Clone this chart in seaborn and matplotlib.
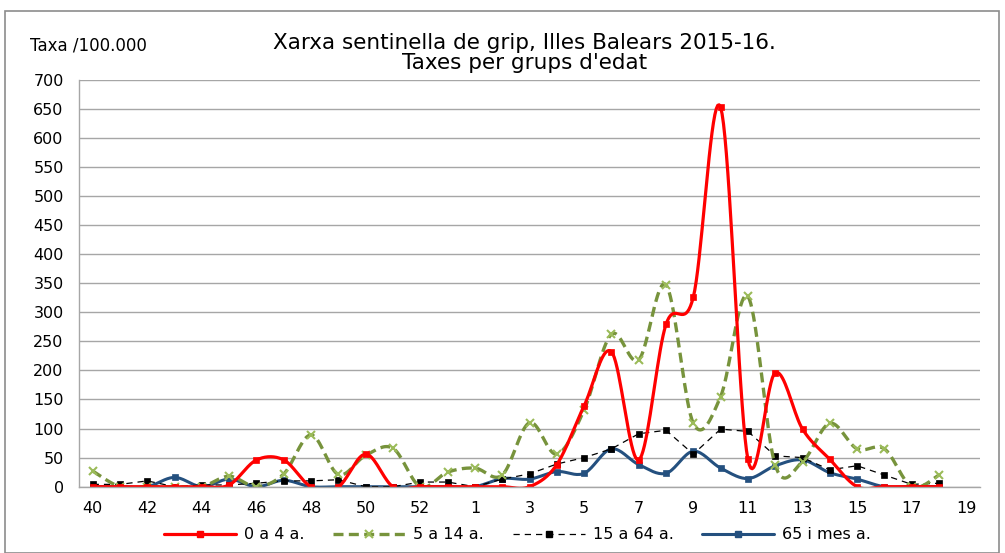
import numpy as np
import pandas as pd
import seaborn as sns
import matplotlib.pyplot as plt
from matplotlib.lines import Line2D
from matplotlib.patches import Rectangle

weeks = list(range(40, 54)) + list(range(1, 20))
rate_0_4 = [0, 0, 0, 0, 0, 3, 46, 46, 0, 0, 56, 0, 0, 0, 0, 0,
            0, 38, 139, 232, 46, 279, 326, 652, 47, 196, 99, 47, 0, 0, 0, 0]
rate_5_14 = [27, 0, 0, 0, 0, 18, 0, 22, 89, 21, 54, 66, 0, 25, 32, 20,
             110, 56, 132, 262, 218, 347, 109, 155, 327, 37, 43, 109, 65, 65, 0, 20]
rate_15_64 = [4, 4, 10, 0, 3, 3, 6, 10, 10, 12, 0, 0, 8, 8, 0, 13,
              22, 39, 50, 65, 91, 97, 56, 99, 95, 53, 50, 29, 36, 20, 4, 6]
rate_65 = [0, 0, 0, 16, 0, 13, 0, 11, 0, 0, 0, 0, 0, 0, 0, 14,
           13, 26, 23, 65, 38, 23, 61, 32, 14, 36, 46, 24, 13, 0, 0, 0]
labels = ["0 a 4 a.", "5 a 14 a.", "15 a 64 a.", "65 i mes a."]


def smooth(y, n=20):
    # excel-like smoothed line (catmull-rom bezier)
    y = np.asarray(y, dtype=float)
    x = np.arange(len(y), dtype=float)
    px = np.concatenate([[x[0]], x, [x[-1]]])
    py = np.concatenate([[y[0]], y, [y[-1]]])
    xs, ys = [], []
    t = np.linspace(0, 1, n)
    for i in range(1, len(px) - 2):
        p0 = np.array([px[i], py[i]])
        p3 = np.array([px[i + 1], py[i + 1]])
        p1 = p0 + (np.array([px[i + 1], py[i + 1]]) - np.array([px[i - 1], py[i - 1]])) / 6
        p2 = p3 - (np.array([px[i + 2], py[i + 2]]) - np.array([px[i], py[i]])) / 6
        b = ((1 - t) ** 3)[:, None] * p0 + (3 * (1 - t) ** 2 * t)[:, None] * p1 \
            + (3 * (1 - t) * t ** 2)[:, None] * p2 + (t ** 3)[:, None] * p3
        xs.extend(b[:, 0])
        ys.extend(b[:, 1])
    return np.array(xs), np.array(ys)


sns.set_style("white")
plt.rcParams["font.family"] = ["DejaVu Sans"]
plt.rcParams["text.color"] = "black"
plt.rcParams["xtick.labelcolor"] = "black"
plt.rcParams["ytick.labelcolor"] = "black"

fig = plt.figure(figsize=(10.05, 5.53), dpi=100)
ax = fig.add_axes([79 / 1005, 1 - 486.7 / 553, (980 - 79) / 1005, (486.7 - 79.5) / 553])

idx = np.arange(len(rate_0_4))
series = [
    (rate_65, "#24507F", "-", 2.2, "s", 4, "#24507F", True),
    (rate_15_64, "black", (0, (5, 4)), 0.9, "s", 5, "black", False),
    (rate_5_14, "#77933C", (0, (3, 1.6)), 2.4, "x", 6, "#9BBB59", True),
    (rate_0_4, "#FF0000", "-", 2.3, "s", 5, "#FF0000", True),
]
for vals, col, ls, lw, mk, ms, mcol, sm in series:
    if sm:
        sx, sy = smooth(vals)
    else:
        sx, sy = idx, np.asarray(vals, dtype=float)
    sns.lineplot(x=sx, y=sy, ax=ax, color=col, linestyle=ls, linewidth=lw,
                 sort=False, estimator=None)
    df = pd.DataFrame({"i": idx, "v": vals})
    ax.plot(df["i"], df["v"], linestyle="none", marker=mk, markersize=ms,
            color=mcol, markeredgecolor=mcol, markeredgewidth=1.5 if mk == "x" else 0.5)

ax.set_xlim(-0.5, len(weeks) - 0.5)
ax.set_ylim(0, 700)
ax.set_yticks(range(0, 701, 50))
ax.set_xticks(range(0, len(weeks), 2))
ax.set_xticklabels([str(w) for w in weeks[::2]])
ax.set_xticks(np.arange(-0.5, len(weeks), 1), minor=True)
ax.grid(axis="y", color="#A6A6A6", linewidth=1)
ax.set_axisbelow(True)
for s in ["top", "right"]:
    ax.spines[s].set_visible(False)
for s in ["left", "bottom"]:
    ax.spines[s].set_color("#A6A6A6")
    ax.spines[s].set_linewidth(1)
ax.tick_params(axis="x", which="major", length=0, labelsize=11.5, pad=10, labelcolor="black")
ax.tick_params(axis="x", which="minor", length=5, color="#A6A6A6", width=1)
ax.tick_params(axis="y", length=5, color="#A6A6A6", width=1, labelsize=11.5, pad=6, labelcolor="black")
ax.set_xlabel("")
ax.set_ylabel("")

fig.text(0.522, 0.904, "Xarxa sentinella de grip, Illes Balears 2015-16.\nTaxes per grups d'edat",
         ha="center", va="center", fontsize=15.5, linespacing=0.95, color="black")
fig.text(0.03, 0.918, "Taxa /100.000", ha="left", va="center", fontsize=12, color="black")

handles = [
    Line2D([], [], color="#FF0000", lw=2.3, marker="s", ms=5),
    Line2D([], [], color="#77933C", lw=2.4, ls=(0, (3, 1.6)), marker="x", ms=6,
           markeredgecolor="#9BBB59", markeredgewidth=1.5),
    Line2D([], [], color="black", lw=0.9, ls=(0, (5, 4)), marker="s", ms=5),
    Line2D([], [], color="#24507F", lw=2.2, marker="s", ms=4),
]
leg = fig.legend(handles, labels, loc="center", bbox_to_anchor=(0.515, 0.033), ncol=4,
                 frameon=False, fontsize=11.5, handlelength=4.5, columnspacing=1.8,
                 handletextpad=0.5)
for t in leg.get_texts():
    t.set_color("black")

fig.patches.append(Rectangle((5 / 1005, 0), 994 / 1005, 1 - 11 / 553, transform=fig.transFigure,
                             fill=False, edgecolor="#8C8C8C", linewidth=1.2))

fig.savefig("out.png", dpi=100)
